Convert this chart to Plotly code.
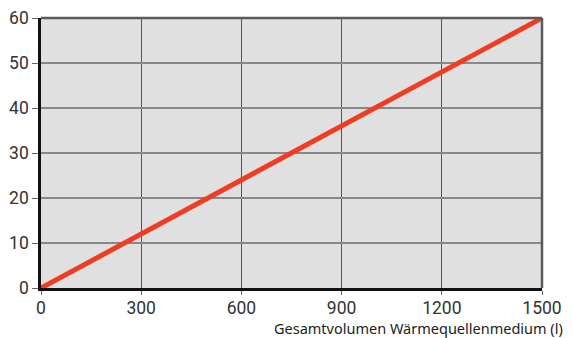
import plotly.graph_objects as go

volume_l = [0, 1500]
antifreeze = [0, 60]
x_ticks = [0, 300, 600, 900, 1200, 1500]
y_ticks = [0, 10, 20, 30, 40, 50, 60]
x_title = "Gesamtvolumen Wärmequellenmedium (l)"

fig = go.Figure()
fig.add_trace(go.Scatter(x=volume_l, y=antifreeze, mode="lines",
                         line=dict(color="#f03c24", width=5), showlegend=False,
                         cliponaxis=False))

# top/right border in gray
fig.add_shape(type="line", xref="paper", yref="paper", x0=0, x1=1, y0=1, y1=1,
              line=dict(color="#5a5a5a", width=2.5))
fig.add_shape(type="line", xref="paper", yref="paper", x0=1, x1=1, y0=0, y1=1,
              line=dict(color="#5a5a5a", width=2.5))

fig.add_annotation(text=x_title, xref="paper", yref="paper", x=0.461, y=-0.148,
                   xanchor="left", yanchor="middle", showarrow=False,
                   font=dict(size=14.5, color="#222", family="Noto Sans"))

fig.update_layout(
    width=565, height=330,
    margin=dict(l=33, r=31, t=10, b=50, autoexpand=False),
    paper_bgcolor="white", plot_bgcolor="#e0e0e0",
    font=dict(family="Roboto", size=17, color="#333"),
)
fig.update_xaxes(range=[0, 1500], tickvals=x_ticks, showgrid=True,
                 gridcolor="#555", gridwidth=1, automargin=False,
                 showline=True, linecolor="#111", linewidth=2.5,
                 ticks="outside", ticklen=4, tickcolor="#666", tickwidth=1,
                 zeroline=False, tickfont=dict(size=17.5, color="#333"),
                 ticklabeloverflow="allow", ticklabelstandoff=-2)
fig.update_yaxes(range=[0, 60], tickvals=y_ticks, showgrid=True,
                 gridcolor="#888", gridwidth=1.5, automargin=False,
                 showline=True, linecolor="#111", linewidth=2.5,
                 ticks="outside", ticklen=6, tickcolor="#666", tickwidth=1,
                 zeroline=False, tickfont=dict(size=17.5, color="#333"),
                 ticklabeloverflow="allow")

fig.write_html("out.html")
